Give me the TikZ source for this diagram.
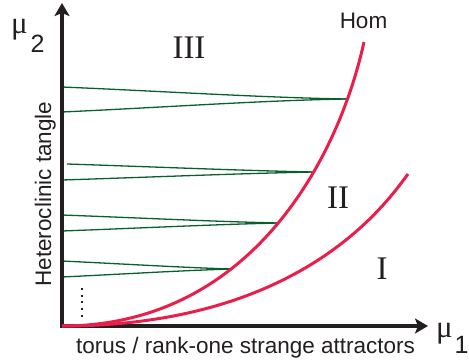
\documentclass[tikz,border=0pt]{standalone}
\usepackage{fontspec}
\setmainfont{Liberation Serif}
\setsansfont{Liberation Sans}
\usetikzlibrary{arrows.meta}
\definecolor{homred}{RGB}{233,30,74}
\definecolor{tanglegreen}{RGB}{10,95,45}
\definecolor{axisblack}{RGB}{35,31,32}
\begin{document}
\begin{tikzpicture}[>={Stealth[length=13pt,width=15pt,inset=3pt]}, x=1pt, y=-1pt,
  axis/.style={line width=3.2pt, color=axisblack},
  bif/.style={line width=3pt, color=homred},
  tangle/.style={line width=1.3pt, color=tanglegreen},
  sanslabel/.style={font=\sffamily\fontsize{22.5}{26}\selectfont, text=axisblack, inner sep=0pt, anchor=base},
  region/.style={font=\fontsize{33}{38}\selectfont, text=axisblack, inner sep=0pt, anchor=base},
  greek/.style={font=\fontsize{31}{36}\selectfont, text=axisblack, inner sep=0pt, anchor=base},
  index/.style={font=\sffamily\fontsize{25}{30}\selectfont, text=axisblack, inner sep=0pt, anchor=base}]
\useasboundingbox (0,0) rectangle (469,362);
\coordinate (O) at (62,326);
\coordinate (ytip) at (62,3);
\coordinate (xtip) at (428,326);
\coordinate (homend) at (364,42);
\coordinate (oneend) at (408,174);
% tips of the tangle
\coordinate (t1) at (346,99);
\coordinate (t2) at (313,172);
\coordinate (t3) at (278,223);
\coordinate (t4) at (232,269);
\coordinate (u1) at (62,87);
\coordinate (l1) at (62,112);
\coordinate (u2) at (67,164);
\coordinate (l2) at (62,180);
\coordinate (u3) at (62,215);
\coordinate (l3) at (62,231);
\coordinate (u4) at (62,261);
\coordinate (l4) at (62,277);
\draw[tangle] (u1) .. controls (161.4,91.2) and (260.8,97.5) .. (t1);
\draw[tangle] (l1) .. controls (161.4,107.5) and (260.8,100.5) .. (t1);
\draw[tangle] (u2) .. controls (153.1,166.8) and (239.2,170.5) .. (t2);
\draw[tangle] (l2) .. controls (149.9,177.2) and (237.7,173.5) .. (t2);
\draw[tangle] (u3) .. controls (137.6,217.8) and (213.2,221.5) .. (t3);
\draw[tangle] (l3) .. controls (137.6,228.2) and (213.2,224.5) .. (t3);
\draw[tangle] (u4) .. controls (121.5,263.8) and (181,267.5) .. (t4);
\draw[tangle] (l4) .. controls (121.5,274.2) and (181,270.5) .. (t4);
\draw[line width=2pt, dash pattern=on 2pt off 4.7pt, color=axisblack] (82,288) -- (82,317);
\draw[axis, <->] (ytip) -- (O) -- (xtip);
\draw[bif] (O) .. controls (250,326) and (338,160) .. (homend);
\draw[bif] (O) .. controls (300,326) and (385,205) .. (oneend);
\node[sanslabel] (hom) at (363.5,28) {Hom};
\node[region] (r3) at (189,58) {III};
\node[region] (r2) at (338,208) {II};
\node[region] (r1) at (382,279) {I};
\node[greek] (mu2) at (19.5,33) {μ};
\node[index] (sub2) at (37.5,52) {2};
\node[greek] (mu1) at (444.5,337) {μ};
\node[index] (sub1) at (461.5,353) {1};
\node[sanslabel, rotate=90] (het) at (51,194) {Heteroclinic tangle};
\node[sanslabel] (torus) at (245.5,353) {torus / rank-one strange attractors};
\end{tikzpicture}
\end{document}
